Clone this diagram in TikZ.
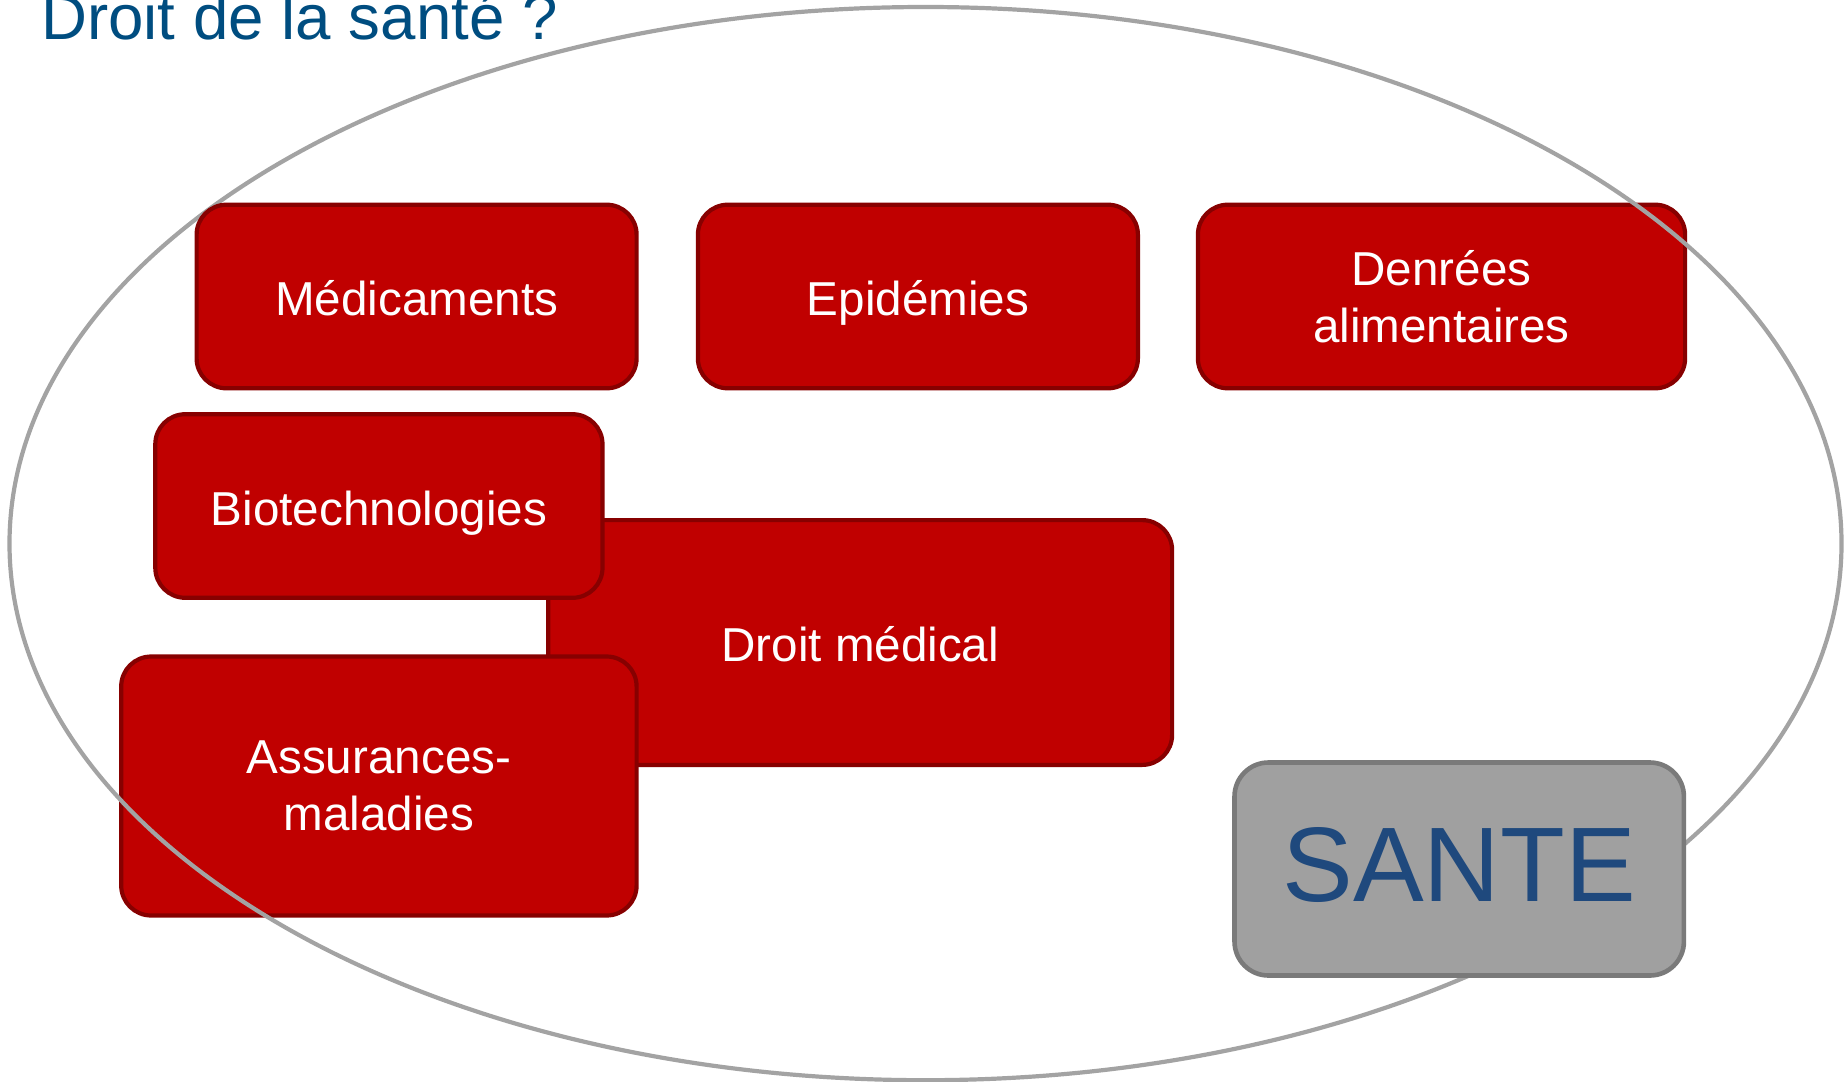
\documentclass[tikz,border=0pt]{standalone}
\usepackage{fontspec}
\setmainfont{Liberation Sans}
\definecolor{boxred}{RGB}{192,0,0}
\definecolor{boxedge}{RGB}{135,0,0}
\definecolor{ringgrey}{RGB}{163,163,163}
\definecolor{santefill}{RGB}{160,160,160}
\definecolor{santeedge}{RGB}{122,122,122}
\definecolor{santetext}{RGB}{31,73,125}
\definecolor{titleblue}{RGB}{0,77,128}
\tikzset{
  redbox/.style={draw=boxedge, fill=boxred, line width=2.1pt, rounded corners=15pt,
    inner sep=0pt, text=white, align=center, font=\fontsize{23.8}{28.3}\selectfont},
  oneline/.style={text height=19.4pt, text depth=0pt},
  santebox/.style={draw=santeedge, fill=santefill, line width=2.3pt, rounded corners=17pt,
    inner sep=0pt, text=santetext, font=\fontsize{53}{60}\selectfont},
  ring/.style={draw=ringgrey, line width=2.1pt}
}
\begin{document}
\begin{tikzpicture}[x=0.5pt,y=-0.5pt]
\useasboundingbox (0,0) rectangle (1845,1081);
\node[anchor=base west, text=titleblue, font=\fontsize{31.8}{36}\selectfont, inner sep=0pt] (title) at (41,40) {Droit de la santé ?};
\node[redbox, minimum width=243.6pt, minimum height=91.8pt] (denrees) at (1441.5,296.5) {\raisebox{-0.8pt}{\parbox{240pt}{\centering Denrées\\alimentaires}}};
\node[redbox, oneline, minimum width=311.9pt, minimum height=122.4pt] (droit) at (860.2,642.5) {Droit médical};
\node[redbox, oneline, minimum width=223.6pt, minimum height=91.8pt] (biotech) at (378.9,506) {Biotechnologies};
\node[redbox, minimum width=257.7pt, minimum height=129.5pt] (assur) at (378.9,786) {\raisebox{-1.6pt}{\parbox{250pt}{\centering Assurances-\\maladies}}};
\node[redbox, oneline, minimum width=220pt, minimum height=91.8pt] (epid) at (917.9,296.5) {Epidémies};
\draw[ring] (925.5,543.6) ellipse [x radius=458pt, y radius=268.3pt];
\node[redbox, oneline, minimum width=220pt, minimum height=91.8pt] (medic) at (416.6,296.5) {Médicaments};
\node[santebox, minimum width=224.7pt, minimum height=106.5pt] (sante) at (1459.2,869) {\raisebox{4.5pt}{SANTE}\hspace{2pt}};
\end{tikzpicture}
\end{document}
